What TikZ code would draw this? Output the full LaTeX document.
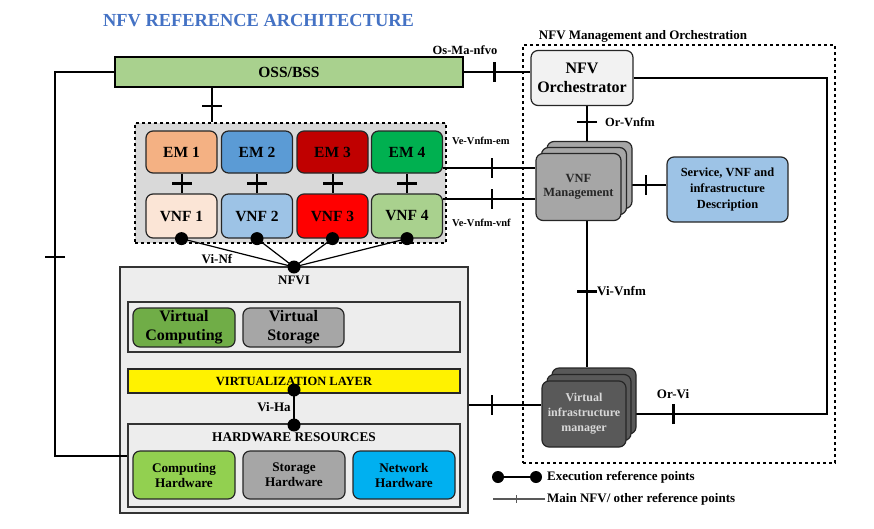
\documentclass[tikz,border=0pt]{standalone}
\usepackage{fontspec}
\setmainfont{Liberation Serif}
\usetikzlibrary{positioning,decorations.markings}

\definecolor{titleblue}{HTML}{4472C4}
\definecolor{ossgreen}{HTML}{A9D18E}
\definecolor{emone}{HTML}{F4B183}
\definecolor{emtwo}{HTML}{5B9BD5}
\definecolor{emthree}{HTML}{C00000}
\definecolor{emfour}{HTML}{00B050}
\definecolor{vnfone}{HTML}{FBE5D6}
\definecolor{vnftwo}{HTML}{9DC3E6}
\definecolor{vnfthree}{HTML}{FF0000}
\definecolor{vnffour}{HTML}{A9D18E}
\definecolor{panelgray}{HTML}{EDEDED}
\definecolor{vnfgray}{HTML}{D9D9D9}
\definecolor{vcomp}{HTML}{70AD47}
\definecolor{midgray}{HTML}{A6A6A6}
\definecolor{hwgreen}{HTML}{92D050}
\definecolor{hwblue}{HTML}{00B0F0}
\definecolor{orchgray}{HTML}{F2F2F2}
\definecolor{descblue}{HTML}{9DC3E6}
\definecolor{vimgray}{HTML}{595959}

\pgfdeclarelayer{frames}
\pgfdeclarelayer{links}
\pgfsetlayers{frames,links,main}

\newcommand{\fsz}[1]{\fontsize{#1}{#1}\selectfont}

\tikzset{
  block/.style={draw=black!85, line width=1.2pt, rounded corners=7pt, align=center,
    font=\bfseries, inner sep=0pt},
  panel/.style={draw=black!80, line width=1.6pt, inner sep=0pt},
  link/.style={line width=2pt},
  reftick/.style={postaction={decorate,decoration={markings,
      mark=at position #1 with {\draw[line width=2.4pt] (0,-10) -- (0,10);}}}},
  dot/.style={circle, fill=black, inner sep=0pt, minimum size=13pt},
  lbl/.style={font=\bfseries\fsz{13}, inner sep=0pt},
}

\begin{document}
\begin{tikzpicture}[x=1pt,y=-1pt]
  \useasboundingbox (0,0) rectangle (874,528);

  % frames
  \begin{pgfonlayer}{frames}
    \node[draw, dashed, line width=1.5pt, fill=vnfgray, minimum width=311pt, minimum height=120pt] (vnfframe) at (290.5,183) {};
    \node[draw, dashed, line width=1.5pt, minimum width=312pt, minimum height=418pt] (mano) at (679,254) {};
    \node[panel, fill=panelgray, minimum width=348pt, minimum height=246pt] (nfvi) at (294,390) {};
    \node[panel, fill=panelgray, minimum width=332pt, minimum height=50pt] (virtpanel) at (294,327) {};
    \node[panel, fill=panelgray, minimum width=332pt, minimum height=83pt] (hw) at (294,465.5) {};
  \end{pgfonlayer}

  \node[font=\bfseries\fsz{18.4}, text=titleblue] (title) at (258.5,21) {NFV REFERENCE ARCHITECTURE};
  \node[lbl] (manolbl) at (643,36) {NFV Management and Orchestration};

  \node[draw, line width=1.6pt, fill=ossgreen, minimum width=348pt, minimum height=30pt,
    inner sep=0pt, font=\bfseries\fsz{15.5}] (oss) at (289,72) {OSS/BSS};

  % EMs and VNFs
  \foreach \n/\x/\ec/\vc in {1/181.5/emone/vnfone, 2/257/emtwo/vnftwo,
      3/332.5/emthree/vnfthree, 4/407/emfour/vnffour} {
    \node[block, fill=\ec, minimum width=71pt, minimum height=42pt, font=\bfseries\fsz{15.5}] (em\n) at (\x,152) {EM \n};
    \node[block, fill=\vc, minimum width=71pt, minimum height=44pt, font=\bfseries\fsz{15.5}] (vnf\n) at (\x,216) {VNF \n};
    \node[dot] (vnfdot\n) at (vnf\n.south) {};
  }
  \node[dot] (nfvidot) at (294,267) {};
  \node[lbl] (vinf) at (217,259) {Vi-Nf};
  \node[lbl] (nfvilbl) at (294,280) {NFVI};

  % NFVI content
  \node[block, fill=vcomp, minimum width=102pt, minimum height=39pt, font=\bfseries\fontsize{16}{19}\selectfont] (vcomp) at (184,327.5) {Virtual\\Computing};
  \node[block, fill=midgray, minimum width=101pt, minimum height=39pt, font=\bfseries\fontsize{16}{19}\selectfont] (vstore) at (293.5,327.5) {Virtual\\Storage};
  \node[draw=black!85, line width=1.6pt, fill=yellow, minimum width=332pt, minimum height=24pt, inner sep=0pt,
    font=\bfseries\fsz{12.5}] (vl) at (294,381) {VIRTUALIZATION LAYER};
  \node[dot] (vldot) at (294,390) {};
  \node[dot] (hwdot) at (294,425) {};
  \node[lbl] (viha) at (274,407) {Vi-Ha};
  \node[lbl, font=\bfseries\fsz{13.3}] (hwlbl) at (294,437) {HARDWARE RESOURCES};
  \node[block, fill=hwgreen, minimum width=102pt, minimum height=48pt, font=\bfseries\fontsize{13.2}{15}\selectfont] (comphw) at (184,475) {Computing\\Hardware};
  \node[block, fill=midgray, minimum width=102pt, minimum height=48pt, font=\bfseries\fontsize{13.2}{15}\selectfont] (storhw) at (294,475) {Storage\\Hardware};
  \node[block, fill=hwblue, minimum width=102pt, minimum height=48pt, font=\bfseries\fontsize{13.2}{15}\selectfont] (nethw) at (404,475) {Network\\Hardware};

  % MANO
  \node[block, fill=orchgray, minimum width=102pt, minimum height=55pt, font=\bfseries\fontsize{16}{19}\selectfont] (orch) at (582,78) {NFV\\Orchestrator};
  \foreach \i in {2,1}
    \node[block, fill=midgray, minimum width=85pt, minimum height=67pt] (vnfmback\i) at ({578.5+5.5*\i},{187-6*\i}) {};
  \node[block, fill=midgray, minimum width=85pt, minimum height=67pt, text=black!85,
    font=\bfseries\fontsize{12.5}{14}\selectfont] (vnfm) at (578.5,187) {VNF\\Management};
  \node[block, fill=descblue, minimum width=121pt, minimum height=65pt, font=\bfseries\fontsize{12.4}{16}\selectfont] (desc) at (727.5,189.5) {Service, VNF and\\infrastructure\\Description};
  \foreach \i in {2,1}
    \node[block, fill=vimgray, minimum width=84pt, minimum height=66pt] (vimback\i) at ({584+5*\i},{414-6.5*\i}) {};
  \node[block, fill=vimgray, minimum width=84pt, minimum height=66pt, text=vnfgray,
    font=\bfseries\fontsize{12}{15}\selectfont] (vim) at (584,414) {Virtual\\infrastructure\\manager};

  % reference point labels
  \node[lbl, font=\bfseries\fsz{12.5}] (osma) at (465,50) {Os-Ma-nfvo};
  \node[lbl, font=\bfseries\fsz{12.5}, anchor=west] (orvnfm) at (605,122) {Or-Vnfm};
  \node[lbl, font=\bfseries\fsz{10.5}, anchor=west] (vevnfmem) at (452,141) {Ve-Vnfm-em};
  \node[lbl, font=\bfseries\fsz{10.5}, anchor=west] (vevnfmvnf) at (452,223) {Ve-Vnfm-vnf};
  \node[lbl, anchor=west] (vivnfm) at (597,291) {Vi-Vnfm};
  \node[lbl] (orvi) at (673,394) {Or-Vi};

  % legend
  \node[dot, minimum size=12pt] (legA) at (498,477) {};
  \node[dot, minimum size=12pt] (legB) at (536,477) {};
  \node[lbl, anchor=west] (legexec) at (547,477) {Execution reference points};
  \coordinate (legC) at (493,499);
  \coordinate (legD) at (545,499);
  \node[lbl, anchor=west] (legmain) at (547,499) {Main NFV/ other reference points};

  % helper coordinates
  \coordinate (spine) at (587,0);
  \coordinate (osslink) at (212,0);
  \coordinate (emrow) at (0,168);
  \coordinate (vnfrow) at (0,199);
  \coordinate (descrow) at (0,185);
  \coordinate (vimrow) at (0,405);
  \coordinate (loopR) at (827,0);
  \coordinate (leftcorner) at (55,456);

  % connectors
  \begin{pgfonlayer}{links}
    \foreach \n in {1,...,4} {
      \draw[link, reftick=0.5] (em\n) -- (vnf\n);
      \draw[line width=1.2pt] (vnfdot\n.center) -- (nfvidot.center);
    }
    \draw[link, reftick=0.46] (oss.east) -- (oss.east -| orch.west);
    \draw[link, reftick=0.53] (oss.south -| osslink) -- (vnfframe.north -| osslink);
    \draw[link, reftick=244pt] (oss.west) -| (leftcorner) -- (hw.west |- leftcorner);
    \draw[link, reftick=0.46] (orch.south -| spine) -- (vnfmback2.north -| spine);
    \draw[link, reftick=0.48] (vnfm.south -| spine) -- (vimback2.north -| spine);
    \draw[link, reftick=0.53] (em4.east |- emrow) -- (vnfm.west |- emrow);
    \draw[link, reftick=0.53] (vnf4.east |- vnfrow) -- (vnfm.west |- vnfrow);
    \draw[link, reftick=0.54] (vnfm.east |- descrow) -- (desc.west |- descrow);
    \draw[link, reftick=683pt] (orch.east) -- (orch.east -| loopR) |- (vim.east);
    \draw[link, reftick=0.32] (nfvi.east |- vimrow) -- (vim.west |- vimrow);
    \draw[line width=1.2pt] (vldot.center) -- (hwdot.center);
    \draw[line width=1.2pt] (legA) -- (legB);
    \draw[line width=1.2pt, black!65, postaction={decorate,decoration={markings,
      mark=at position 0.45 with {\draw[line width=1pt] (0,-4) -- (0,4);}}}] (legC) -- (legD);
  \end{pgfonlayer}
\end{tikzpicture}
\end{document}
